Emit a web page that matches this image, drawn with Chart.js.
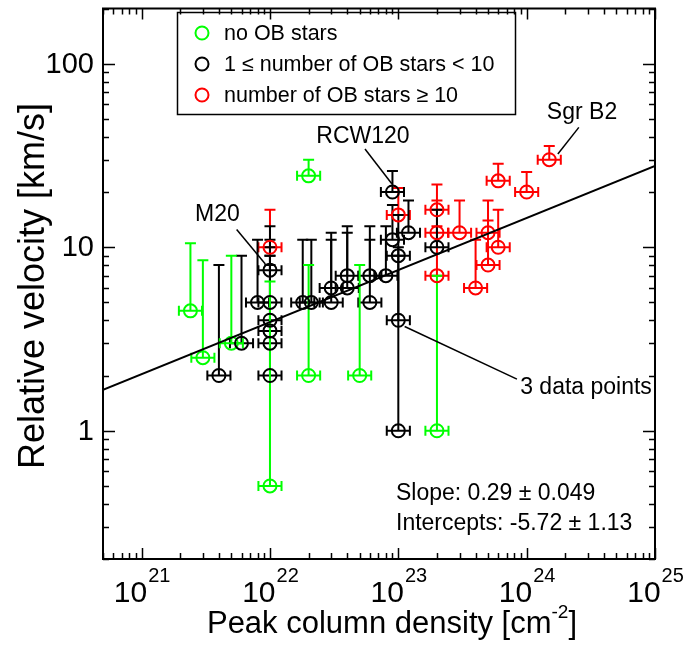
<!DOCTYPE html>
<html>
<head>
<meta charset="utf-8">
<script src="https://cdn.jsdelivr.net/npm/chart.js@4.4.0/dist/chart.umd.min.js"></script>
<style>
  html, body { margin: 0; padding: 0; background: #fff; }
</style>
</head>
<body>
<canvas id="velChart" width="694" height="646"></canvas>
<script>
// peak column density [cm^-2], relative velocity [km/s], top of the error bar [km/s]
const noObX  = [2.4e21, 3e21, 5e21, 1e22, 2e22, 2e22, 5e22, 2e23];
const noObY  = [4.5, 2.5, 3, 0.5, 24.5, 2, 2, 1];
const noObHi = [10.5, 8.5, 9, 6.5, 30, 8, 8, 7];

const fewObX  = [4e21, 6e21, 8e21, 1e22, 1e22, 1e22, 1e22, 1e22, 1e22, 1.8e22, 2.1e22, 3e22, 3e22,
                 4e22, 4e22, 6e22, 6e22, 8e22, 9e22, 9e22, 1e23, 1e23, 1e23, 1.2e23, 2e23];
const fewObY  = [2, 3, 5, 7.5, 5, 4, 3.5, 3, 2, 5, 5, 5, 6, 7, 6, 7, 5, 7, 20, 11, 9, 4, 1, 12, 10];
const fewObHi = [8, 9, 11, 13, 11, 10, 9, 9, 8, 11, 11, 11, 12, 13, 12, 13, 11, 13, 26, 17, 15, 10, 9, 18, 16];

const manyObX  = [1e22, 1e23, 2e23, 2e23, 2e23, 3e23, 4e23, 5e23, 5e23, 6e23, 6e23, 1e24, 1.5e24];
const manyObY  = [10, 15, 16, 12, 7, 12, 6, 12, 8, 10, 23, 20, 30];
const manyObHi = [16, 21, 22, 18, 13, 18, 11, 18, 14, 16, 28.5, 25.7, 35.6];

// fitted line, read at the two plot edges
const fitX = [5e20, 1e25];
const fitY = [1.67, 27.7];

const legendLabels = ['no OB stars', '1 \u2264 number of OB stars < 10', 'number of OB stars \u2265 10'];
const yTickLabels = ['1', '10', '100'];
const xTickExp = ['21', '22', '23', '24', '25'];

// annotations: label position and pointer line, all in data units
const notes = [
  { text: 'M20',    tx: 3.9e21, ty: 15,   x1: 5.5e21, y1: 12.5, x2: 9.2e21, y2: 8.1, align: 'center' },
  { text: 'RCW120', tx: 5.3e22, ty: 40,   x1: 5.5e22, y1: 34.3, x2: 8.9e22, y2: 22.2, align: 'center' },
  { text: 'Sgr B2', tx: 2.7e24, ty: 54,   x1: 2.55e24, y1: 45,  x2: 1.75e24, y2: 32.2, align: 'center' },
  { text: '3 data points', tx: 8.9e23, ty: 1.71, x1: 1.12e23, y1: 3.7, x2: 8.4e23, y2: 1.91, align: 'left' }
];
const fitText = ['Slope: 0.29 \u00b1 0.049', 'Intercepts: -5.72 \u00b1 1.13'];

const GREEN = '#00ff00';
const RED = '#ff0000';
const FONT = '"Liberation Sans", Arial, Helvetica, sans-serif';
const xErrDex = 0.09;

function pts(xs, ys) {
  return xs.map((x, i) => ({ x: x, y: ys[i] }));
}

const errorBars = {
  id: 'errorBars',
  beforeDatasetsDraw(chart) {
    const ctx = chart.ctx;
    const xs = chart.scales.x, ys = chart.scales.y;
    ctx.save();
    ctx.lineWidth = 2;
    chart.data.datasets.forEach(ds => {
      if (!ds.hi) return;
      ctx.strokeStyle = ds.borderColor;
      ds.data.forEach((p, i) => {
        const px = xs.getPixelForValue(p.x);
        const py = ys.getPixelForValue(p.y);
        const top = ys.getPixelForValue(ds.hi[i]);
        const xl = xs.getPixelForValue(p.x / Math.pow(10, xErrDex));
        const xr = xs.getPixelForValue(p.x * Math.pow(10, xErrDex));
        ctx.beginPath();
        ctx.moveTo(px, py); ctx.lineTo(px, top);
        ctx.moveTo(px - 5.5, top); ctx.lineTo(px + 5.5, top);
        ctx.moveTo(xl, py); ctx.lineTo(xr, py);
        ctx.moveTo(xl, py - 5); ctx.lineTo(xl, py + 5);
        ctx.moveTo(xr, py - 5); ctx.lineTo(xr, py + 5);
        ctx.stroke();
      });
    });
    ctx.restore();
  }
};

const frameAndText = {
  id: 'frameAndText',
  afterDraw(chart) {
    const ctx = chart.ctx;
    const a = chart.chartArea;
    const xs = chart.scales.x, ys = chart.scales.y;
    ctx.save();
    ctx.strokeStyle = '#000';
    ctx.fillStyle = '#000';
    ctx.lineWidth = 2;
    ctx.strokeRect(a.left, a.top, a.right - a.left, a.bottom - a.top);

    // ticks pointing inward on all four sides
    ctx.lineWidth = 1.5;
    ctx.beginPath();
    for (let e = 20; e <= 25; e++) {
      for (let m = 1; m <= 9; m++) {
        const v = m * Math.pow(10, e);
        if (v < xs.min * 0.999 || v > xs.max * 1.001) continue;
        const px = Math.round(xs.getPixelForValue(v)) + 0.5;
        const len = m === 1 ? 11 : 6;
        ctx.moveTo(px, a.bottom); ctx.lineTo(px, a.bottom - len);
        ctx.moveTo(px, a.top); ctx.lineTo(px, a.top + len);
      }
    }
    for (let e = -1; e <= 2; e++) {
      for (let m = 1; m <= 9; m++) {
        const v = m * Math.pow(10, e);
        if (v < ys.min * 0.999 || v > ys.max * 1.001) continue;
        const py = Math.round(ys.getPixelForValue(v)) + 0.5;
        const len = m === 1 ? 12 : 6;
        ctx.moveTo(a.left, py); ctx.lineTo(a.left + len, py);
        ctx.moveTo(a.right, py); ctx.lineTo(a.right - len, py);
      }
    }
    ctx.stroke();

    // y tick labels
    ctx.font = '29px ' + FONT;
    ctx.textAlign = 'right';
    ctx.textBaseline = 'middle';
    yTickLabels.forEach(t => {
      ctx.fillText(t, a.left - 9, ys.getPixelForValue(parseFloat(t)) + 1);
    });

    // x tick labels 10^n
    ctx.textAlign = 'left';
    ctx.textBaseline = 'alphabetic';
    xTickExp.forEach(ex => {
      const px = xs.getPixelForValue(Math.pow(10, parseInt(ex)));
      ctx.font = '30px ' + FONT;
      const w1 = ctx.measureText('10').width;
      ctx.font = '20px ' + FONT;
      const w2 = ctx.measureText(ex).width;
      const x0 = px - (w1 + w2) / 2;
      ctx.font = '30px ' + FONT;
      ctx.fillText('10', x0, 602);
      ctx.font = '20px ' + FONT;
      ctx.fillText(ex, x0 + w1 + 1, 582);
    });

    // axis titles
    ctx.font = '31px ' + FONT;
    const t1 = 'Peak column density [cm', t2 = '-2', t3 = ']';
    const w1 = ctx.measureText(t1).width, w3 = ctx.measureText(t3).width;
    ctx.font = '19px ' + FONT;
    const w2 = ctx.measureText(t2).width;
    let x0 = 392 - (w1 + w2 + w3) / 2;
    ctx.font = '31px ' + FONT;
    ctx.fillText(t1, x0, 633);
    ctx.font = '19px ' + FONT;
    ctx.fillText(t2, x0 + w1, 618);
    ctx.font = '31px ' + FONT;
    ctx.fillText(t3, x0 + w1 + w2, 633);

    ctx.save();
    ctx.translate(34, 286);
    ctx.rotate(-Math.PI / 2);
    ctx.textAlign = 'center';
    ctx.textBaseline = 'middle';
    ctx.font = '36px ' + FONT;
    ctx.fillText('Relative velocity [km/s]', 0, 0);
    ctx.restore();

    // annotations
    ctx.font = '23px ' + FONT;
    ctx.lineWidth = 1.5;
    notes.forEach(n => {
      ctx.beginPath();
      ctx.moveTo(xs.getPixelForValue(n.x1), ys.getPixelForValue(n.y1));
      ctx.lineTo(xs.getPixelForValue(n.x2), ys.getPixelForValue(n.y2));
      ctx.stroke();
      ctx.textAlign = n.align;
      ctx.textBaseline = 'middle';
      ctx.fillText(n.text, xs.getPixelForValue(n.tx), ys.getPixelForValue(n.ty));
    });

    ctx.textAlign = 'left';
    ctx.textBaseline = 'alphabetic';
    ctx.fillText(fitText[0], 396, 500);
    ctx.fillText(fitText[1], 396, 530);

    // legend box
    ctx.lineWidth = 1.5;
    ctx.strokeRect(177.5, 12.5, 338, 102);
    const colors = [GREEN, '#000', RED];
    ctx.textBaseline = 'middle';
    ctx.textAlign = 'left';
    ctx.font = '21.5px ' + FONT;
    legendLabels.forEach((lab, i) => {
      const cy = 33 + i * 31;
      ctx.strokeStyle = colors[i];
      ctx.lineWidth = 2;
      ctx.beginPath();
      ctx.arc(202, cy, 6.5, 0, Math.PI * 2);
      ctx.stroke();
      ctx.fillStyle = '#000';
      ctx.fillText(lab, 224, cy + 1);
    });
    ctx.restore();
  }
};

function group(label, xs, ys, hi, color) {
  return {
    label: label,
    data: pts(xs, ys),
    hi: hi,
    borderColor: color,
    backgroundColor: 'rgba(0,0,0,0)',
    pointRadius: 6.5,
    pointBorderWidth: 2,
    pointHoverRadius: 6.5
  };
}

const ctx = document.getElementById('velChart').getContext('2d');
new Chart(ctx, {
  type: 'scatter',
  data: {
    datasets: [
      {
        label: 'fit',
        type: 'line',
        data: pts(fitX, fitY),
        borderColor: '#000',
        borderWidth: 2,
        pointRadius: 0,
        fill: false
      },
      group(legendLabels[2], manyObX, manyObY, manyObHi, RED),
      group(legendLabels[1], fewObX, fewObY, fewObHi, '#000'),
      group(legendLabels[0], noObX, noObY, noObHi, GREEN)
    ]
  },
  options: {
    responsive: false,
    animation: false,
    layout: { padding: { left: 103, right: 39, top: 5, bottom: 87 } },
    plugins: { legend: { display: false }, tooltip: { enabled: false } },
    scales: {
      x: {
        type: 'logarithmic', min: 5e20, max: 1e25,
        grid: { display: false, drawTicks: false },
        border: { display: false },
        ticks: { display: false }
      },
      y: {
        type: 'logarithmic', min: 0.2, max: 200,
        grid: { display: false, drawTicks: false },
        border: { display: false },
        ticks: { display: false }
      }
    }
  },
  plugins: [errorBars, frameAndText]
});
</script>
</body>
</html>
